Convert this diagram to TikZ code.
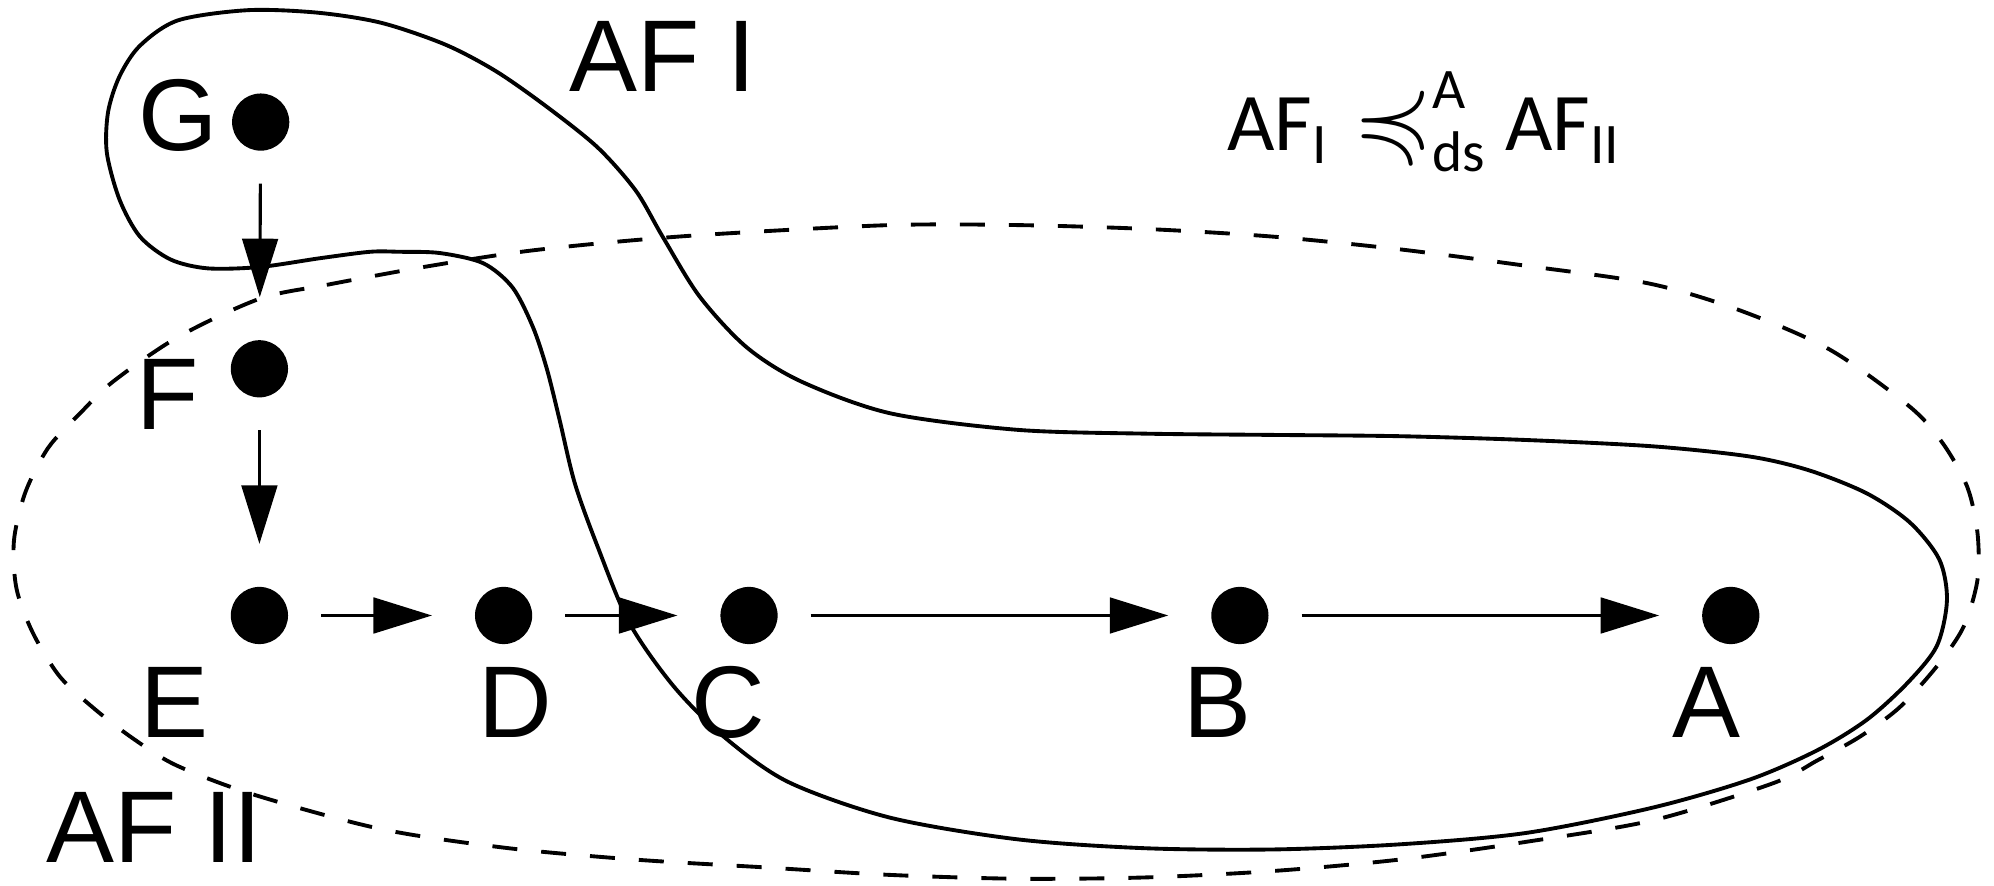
\documentclass[tikz,border=0pt]{standalone}
\usepackage{fontspec}
\usepackage{amsmath,amssymb,graphicx}
\setmainfont{Liberation Sans}
\newfontfamily\formfont{Carlito}
\usetikzlibrary{arrows.meta}

\begin{document}
\begin{tikzpicture}[
  x=0.12717mm, y=-0.12717mm,
  dot/.style={circle,fill=black,inner sep=0pt,outer sep=0pt,minimum size=5.72mm},
  lbl/.style={font=\fontsize{29}{30}\selectfont,inner sep=0pt,anchor=base},
  arr/.style={
    line width=0.9pt,
    -{Triangle[length=5.85mm,width=3.56mm]},
    shorten <=3.3mm,
    shorten >=4.3mm
  },
  region/.style={line width=1.1pt},
  dashregion/.style={line width=1.1pt,dash pattern=on 2.5mm off 2.4mm}
]
\useasboundingbox (0,0) rectangle (1568,696);

% points
\node[dot] (g) at (205,96)  {};
\node[dot] (f) at (204,290) {};
\node[dot] (e) at (204,484) {};
\node[dot] (d) at (396,484) {};
\node[dot] (c) at (589,484) {};
\node[dot] (b) at (975,484) {};
\node[dot] (a) at (1361,484) {};

\node[lbl] (glabel) at (140,118) {G};
\node[lbl] (flabel) at (132,338) {F};
\node[lbl] (elabel) at (137,580) {E};
\node[lbl] (dlabel) at (405,580) {D};
\node[lbl] (clabel) at (573,580) {C};
\node[lbl] (blabel) at (957,580) {B};
\node[lbl] (alabel) at (1342,580) {A};

% edges
\draw[arr] (g) -- (f);
\draw[arr] (f) -- (e);
\draw[arr] (e) -- (d);
\draw[arr] (d) -- (c);
\draw[arr] (c) -- (b);
\draw[arr] (b) -- (a);

% AF I
\draw[region] plot[smooth cycle,tension=0.5] coordinates {
  (195,8) (250,10) (300,18) (350,35) (390,56) (430,84) (470,116)
  (500,150) (521,186) (550,233) (587,273) (630,300) (700,325)
  (800,338) (900,341) (1000,342) (1100,343) (1200,346) (1300,351)
  (1376,359) (1423,370) (1468,388) (1502,411) (1525,440) (1531,472)
  (1523,508) (1500,537) (1468,566) (1429,590) (1376,613) (1300,635)
  (1200,655) (1100,664) (1000,668) (900,667) (800,660) (700,643)
  (620,615) (570,580) (530,540) (495,490) (470,430) (452,380)
  (440,330) (430,290) (419,257) (403,226) (380,207) (346,199)
  (314,198) (291,198) (252,203) (204,210) (163,211) (134,204)
  (110,186) (94,157) (84,120) (85,88) (94,60) (110,36) (140,16)
};
\node[lbl] (afone) at (521,72) {AF I};

% AF II
\draw[dashregion] plot[smooth cycle,tension=0.5] coordinates {
  (204,235) (257,224) (333,210) (410,198) (486,190) (564,184)
  (700,177) (800,177) (900,180) (1000,186) (1100,196) (1200,209)
  (1297,223) (1368,244) (1439,275) (1502,320) (1528,349)
  (1547,383) (1555,419) (1555,456) (1544,493)
  (1523,524) (1494,556) (1463,579) (1429,598) (1394,616) (1300,645)
  (1200,662) (1100,676) (1000,685) (900,690) (800,691) (700,688)
  (600,682) (500,676) (400,667) (300,652) (200,625) (139,602)
  (105,581) (75,558) (47,532) (26,498) (13,463) (11,425) (20,387)
  (38,352) (63,325) (89,300) (140,265)
};
\node[lbl] (aftwo) at (121,678) {AF II};

% relation
\node[font=\formfont\fontsize{23.3}{25}\selectfont,inner sep=0pt,anchor=base] (rel) at (1120,118)
  {AF$_\text{I}\mathrel{\scalebox{1.25}{$\preccurlyeq$}}^\text{A}_\text{ds}$ AF$_\text{II}$};
\end{tikzpicture}
\end{document}
